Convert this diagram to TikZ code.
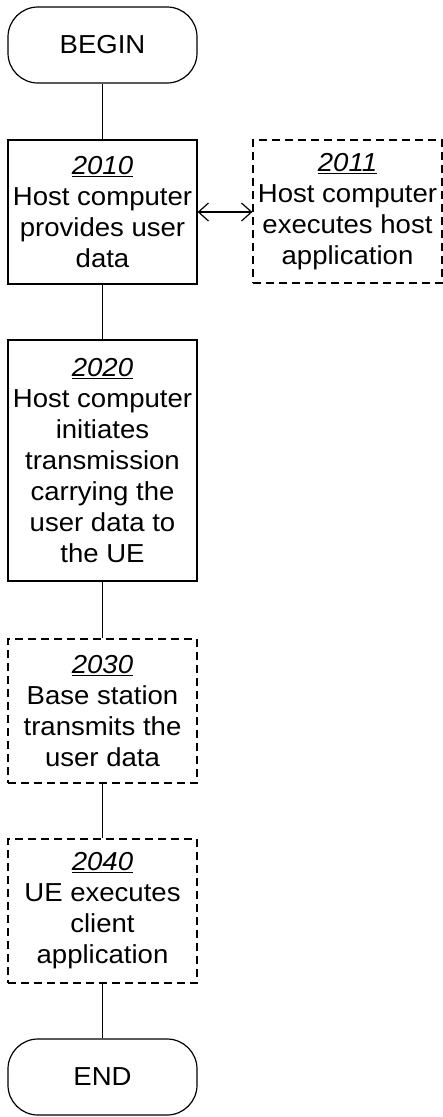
\documentclass[tikz,border=0pt]{standalone}
\usepackage{fontspec}
\setmainfont{Liberation Sans}[FakeStretch=1.06]
\usetikzlibrary{arrows.meta}

\begin{document}
\begin{tikzpicture}[x=1pt,y=-1pt,
  every node/.style={font=\fontsize{26}{31}\selectfont, align=center, inner sep=0pt},
  stepbox/.style={draw, line width=1.2pt, minimum width=189pt, minimum height=144pt},
  optbox/.style={stepbox, dash pattern=on 8pt off 5pt},
  terminal/.style={draw, rectangle, rounded corners=30pt, line width=1.2pt, minimum width=189pt, minimum height=76pt},
  link/.style={line width=1.2pt},
  barb/.style={{Straight Barb[length=10pt,width=18pt]}-{Straight Barb[length=10pt,width=18pt]}}
]
\useasboundingbox (0,0) rectangle (443,1117);

% start and end terminals
\node[terminal] (begin) at (102.5,45) {BEGIN};
\node[terminal] (end) at (102.5,1077) {END};

% process steps
\node[stepbox] (s2010) at (102.5,212)
  {\underline{\textit{2010}}\\Host computer\\provides user\\data};
\node[optbox, minimum width=189pt, minimum height=143pt] (s2011) at (347.5,211.5)
  {\underline{\textit{2011}}\\Host computer\\executes host\\application};
\node[stepbox, minimum height=241pt] (s2020) at (102.5,460.5)
  {\underline{\textit{2020}}\\Host computer\\initiates\\transmission\\carrying the\\user data to\\the UE};
\node[optbox] (s2030) at (102.5,711)
  {\underline{\textit{2030}}\\Base station\\transmits the\\user data};
\node[optbox] (s2040) at (102.5,911)
  {\underline{\textit{2040}}\\UE executes\\client\\application};

% flow connectors
\draw[link] (begin) -- (s2010);
\draw[link] (s2010) -- (s2020);
\draw[link] (s2020) -- (s2030);
\draw[link] (s2030) -- (s2040);
\draw[link] (s2040) -- (end);
\draw[link, barb] (s2010.east) -- (s2010.east -| s2011.west);
\end{tikzpicture}
\end{document}
